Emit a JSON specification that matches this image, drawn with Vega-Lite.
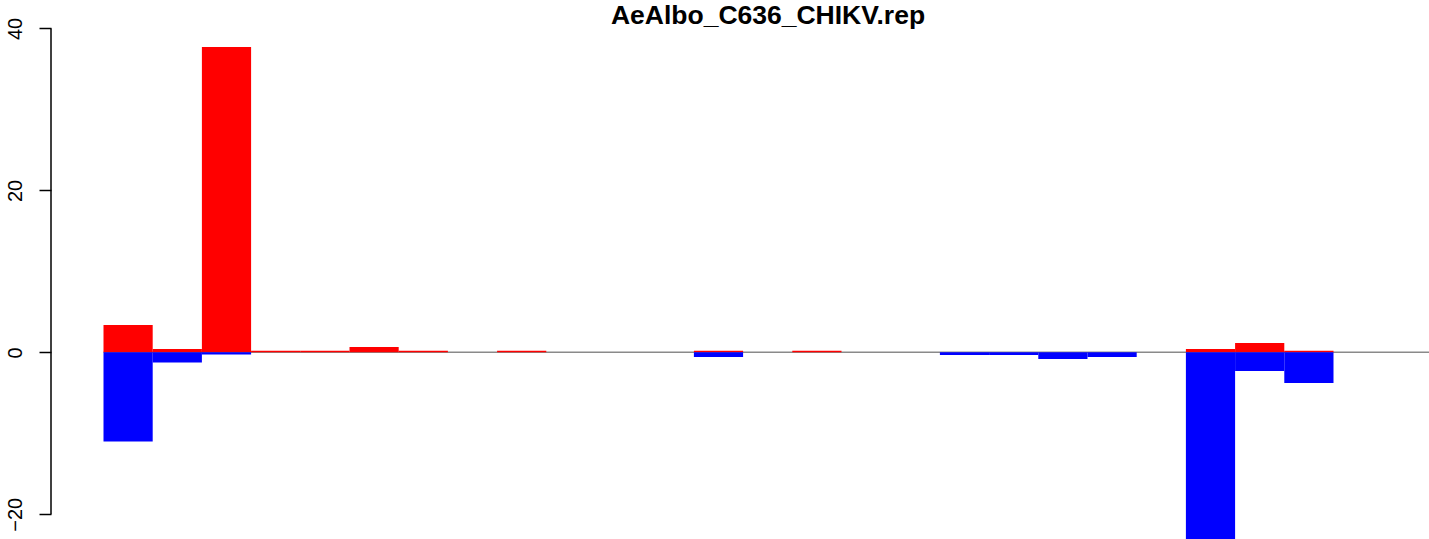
{
  "$schema": "https://vega.github.io/schema/vega-lite/v6.json",
  "width": 1378,
  "height": 511,
  "autosize": "none",
  "padding": {"left": 51, "top": 28, "right": 0, "bottom": 0},
  "background": "white",
  "config": {"view": {"stroke": null}},
  "title": {
    "text": "AeAlbo_C636_CHIKV.rep",
    "font": "Liberation Sans",
    "fontSize": 26.5,
    "fontWeight": "bold",
    "color": "black",
    "anchor": "middle",
    "dx": 28,
    "offset": -12
  },
  "data": {
    "values": [
      {"pos": 1, "dir": "up", "value": 3.37},
      {"pos": 2, "dir": "up", "value": 0.41},
      {"pos": 3, "dir": "up", "value": 37.7},
      {"pos": 4, "dir": "up", "value": 0.2},
      {"pos": 5, "dir": "up", "value": 0.2},
      {"pos": 6, "dir": "up", "value": 0.65},
      {"pos": 7, "dir": "up", "value": 0.2},
      {"pos": 8, "dir": "up", "value": 0},
      {"pos": 9, "dir": "up", "value": 0.2},
      {"pos": 10, "dir": "up", "value": 0},
      {"pos": 11, "dir": "up", "value": 0},
      {"pos": 12, "dir": "up", "value": 0},
      {"pos": 13, "dir": "up", "value": 0.2},
      {"pos": 14, "dir": "up", "value": 0},
      {"pos": 15, "dir": "up", "value": 0.2},
      {"pos": 16, "dir": "up", "value": 0},
      {"pos": 17, "dir": "up", "value": 0},
      {"pos": 18, "dir": "up", "value": 0},
      {"pos": 19, "dir": "up", "value": 0},
      {"pos": 20, "dir": "up", "value": 0},
      {"pos": 21, "dir": "up", "value": 0},
      {"pos": 22, "dir": "up", "value": 0},
      {"pos": 23, "dir": "up", "value": 0.41},
      {"pos": 24, "dir": "up", "value": 1.15},
      {"pos": 25, "dir": "up", "value": 0.2},
      {"pos": 26, "dir": "up", "value": 0},
      {"pos": 27, "dir": "up", "value": 0},
      {"pos": 1, "dir": "down", "value": -11.02},
      {"pos": 2, "dir": "down", "value": -1.26},
      {"pos": 3, "dir": "down", "value": -0.27},
      {"pos": 13, "dir": "down", "value": -0.58},
      {"pos": 18, "dir": "down", "value": -0.33},
      {"pos": 19, "dir": "down", "value": -0.33},
      {"pos": 20, "dir": "down", "value": -0.83},
      {"pos": 21, "dir": "down", "value": -0.58},
      {"pos": 23, "dir": "down", "value": -23.1},
      {"pos": 24, "dir": "down", "value": -2.31},
      {"pos": 25, "dir": "down", "value": -3.79}
    ]
  },
  "layer": [
    {
      "data": {"values": [{"zero": 0}]},
      "mark": {"type": "rule", "color": "#8a8a8a", "strokeWidth": 1.5},
      "encoding": {
        "x": {"datum": 1, "type": "ordinal", "bandPosition": 0, "axis": null},
        "x2": {"datum": 27, "bandPosition": 1},
        "y": {
          "field": "zero",
          "type": "quantitative",
          "axis": {
            "values": [-20, 0, 20, 40],
            "title": null,
            "grid": false,
            "domain": false,
            "tickSize": 12,
            "tickWidth": 1.5,
            "tickColor": "black",
            "labelAngle": -90,
            "labelAlign": "center",
            "labelBaseline": "bottom",
            "labelPadding": 14,
            "labelFont": "Liberation Sans",
            "labelFontSize": 20,
            "labelColor": "black"
          }
        }
      }
    },
    {
      "mark": {"type": "bar"},
      "encoding": {
        "x": {
          "field": "pos",
          "type": "ordinal",
          "scale": {"paddingInner": 0, "paddingOuter": 1, "align": 0.5335, "rangeMax": 1426.8},
          "axis": null
        },
        "y": {
          "field": "value",
          "type": "quantitative",
          "stack": null,
          "scale": {"domain": [-23.06, 40.06], "nice": false, "zero": false},
          "axis": {
            "values": [-20, 0, 20, 40],
            "title": null,
            "grid": false,
            "domain": false,
            "tickSize": 12,
            "tickWidth": 1.5,
            "tickColor": "black",
            "labelAngle": -90,
            "labelAlign": "center",
            "labelBaseline": "bottom",
            "labelPadding": 14,
            "labelFont": "Liberation Sans",
            "labelFontSize": 20,
            "labelColor": "black"
          }
        },
        "color": {
          "field": "dir",
          "type": "nominal",
          "scale": {"domain": ["up", "down"], "range": ["#FF0000", "#0000FF"]},
          "legend": null
        }
      }
    },
    {
      "data": {"values": [{"lo": -20, "hi": 40}]},
      "mark": {"type": "rule", "color": "black", "strokeWidth": 1.5},
      "encoding": {
        "x": {"datum": 1, "type": "ordinal", "bandPosition": -1.067, "axis": null},
        "y": {
          "field": "lo",
          "type": "quantitative",
          "axis": {
            "values": [-20, 0, 20, 40],
            "title": null,
            "grid": false,
            "domain": false,
            "tickSize": 12,
            "tickWidth": 1.5,
            "tickColor": "black",
            "labelAngle": -90,
            "labelAlign": "center",
            "labelBaseline": "bottom",
            "labelPadding": 14,
            "labelFont": "Liberation Sans",
            "labelFontSize": 20,
            "labelColor": "black"
          }
        },
        "y2": {"field": "hi"}
      }
    }
  ]
}
